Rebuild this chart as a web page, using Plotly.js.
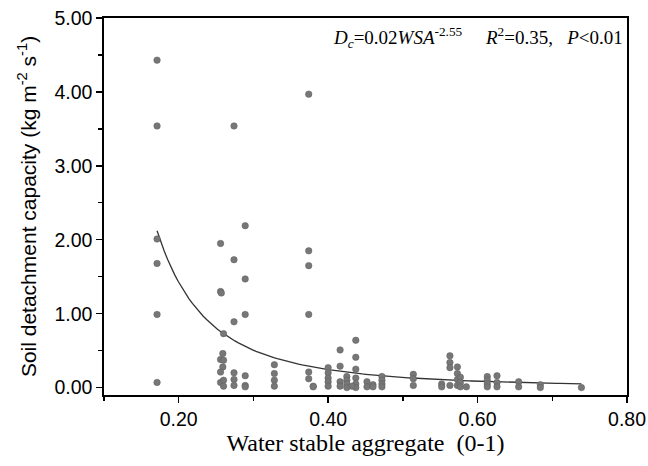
<!DOCTYPE html>
<html>
<head>
<meta charset="utf-8">
<script src="https://cdn.plot.ly/plotly-3.0.1.min.js"></script>
<style>html,body{margin:0;padding:0;background:#fff;}#chart{width:648px;height:466px;}</style>
</head>
<body>
<div id="chart"></div>
<script>
// Observed points: water stable aggregate (WSA) vs soil detachment capacity (Dc)
const wsa = [
  0.171,0.171,0.171,0.171,0.171,0.171,
  0.256,0.256,0.257,0.260,0.259,0.256,0.260,0.259,0.256,0.256,0.260,0.260,
  0.274,0.274,0.274,0.274,0.274,0.274,
  0.289,0.289,0.289,0.289,0.289,0.289,
  0.328,0.328,0.328,0.328,
  0.374,0.374,0.374,0.374,0.374,0.374,
  0.380,0.380,
  0.400,0.400,0.400,0.400,0.400,
  0.416,0.416,0.416,0.416,
  0.425,0.425,0.425,0.425,
  0.437,0.437,0.437,0.437,0.437,0.437,0.432,
  0.452,0.452,
  0.460,0.460,
  0.472,0.472,0.472,0.472,
  0.514,0.514,0.514,
  0.552,0.552,
  0.563,0.563,0.563,0.563,
  0.573,0.573,0.573,0.573,
  0.577,0.577,0.577,
  0.585,
  0.613,0.613,0.613,0.613,
  0.626,0.626,0.626,
  0.655,0.655,
  0.684,0.684,
  0.739
];
const dc = [
  4.43,3.54,2.01,1.68,0.99,0.07,
  1.95,1.30,1.28,0.73,0.46,0.38,0.37,0.28,0.21,0.07,0.10,0.02,
  3.54,1.73,0.89,0.20,0.11,0.03,
  2.19,1.47,0.99,0.16,0.03,0.01,
  0.31,0.19,0.10,0.02,
  3.97,1.85,1.65,0.99,0.21,0.12,
  0.02,0.01,
  0.27,0.20,0.13,0.08,0.02,
  0.51,0.29,0.08,0.02,
  0.15,0.10,0.05,0.00,
  0.64,0.41,0.25,0.13,0.05,0.00,0.02,
  0.08,0.01,
  0.04,0.01,
  0.15,0.10,0.05,0.01,
  0.18,0.12,0.03,
  0.05,0.01,
  0.43,0.34,0.27,0.03,
  0.28,0.19,0.11,0.03,
  0.14,0.07,0.01,
  0.01,
  0.15,0.10,0.05,0.01,
  0.16,0.07,0.01,
  0.08,0.01,
  0.04,0.00,
  0.00
];
// Power-law fit Dc = a * WSA^b (coefficient as drawn by the curve)
const fitA = 0.0235;
const fitB = -2.55;
const fitRange = [0.171, 0.739];
const xTicks = [0.2, 0.4, 0.6, 0.8];
const xTickText = ["0.20", "0.40", "0.60", "0.80"];
const yTicks = [0, 1, 2, 3, 4, 5];
const yTickText = ["0.00", "1.00", "2.00", "3.00", "4.00", "5.00"];

const fitX = [], fitY = [];
for (let i = 0; i <= 120; i++) {
  const x = fitRange[0] + (fitRange[1] - fitRange[0]) * i / 120;
  fitX.push(x);
  fitY.push(fitA * Math.pow(x, fitB));
}

const traces = [
  {
    x: fitX, y: fitY, type: 'scatter', mode: 'lines',
    line: {color: '#333333', width: 1.3}, hoverinfo: 'skip'
  },
  {
    x: wsa, y: dc, type: 'scatter', mode: 'markers',
    marker: {size: 6.5, color: '#777777', line: {color: '#5e5e5e', width: 0.5}}
  }
];

const sans = 'Liberation Sans, Arial, sans-serif';
const serif = 'Liberation Serif, Times New Roman, serif';

const layout = {
  width: 648, height: 466,
  margin: {l: 104, r: 21, t: 18, b: 71},
  paper_bgcolor: '#fff', plot_bgcolor: '#fff',
  showlegend: false,
  xaxis: {
    range: [0.10, 0.80],
    tickvals: xTicks, ticktext: xTickText,
    ticks: 'outside', ticklen: 6, tickwidth: 1.4, tickcolor: '#000',
    minor: {dtick: 0.1, tick0: 0.1, ticks: 'outside', ticklen: 4, tickwidth: 1.3, tickcolor: '#000', showgrid: false},
    showline: true, linecolor: '#000', linewidth: 1.7, mirror: true,
    showgrid: false, zeroline: false,
    tickfont: {family: sans, size: 19.5, color: '#000'},
    title: {text: 'Water stable aggregate&nbsp;&nbsp;(0-1)', font: {family: serif, size: 24, color: '#000'}, standoff: 4}
  },
  yaxis: {
    range: [-0.1, 5.0],
    tickvals: yTicks, ticktext: yTickText,
    ticks: 'outside', ticklen: 6, tickwidth: 1.4, tickcolor: '#000',
    minor: {dtick: 0.5, tick0: 0, ticks: 'outside', ticklen: 4, tickwidth: 1.3, tickcolor: '#000', showgrid: false},
    showline: true, linecolor: '#000', linewidth: 1.7, mirror: true,
    showgrid: false, zeroline: false,
    tickfont: {family: sans, size: 19.5, color: '#000'},
    title: {text: 'Soil detachment capacity (kg m<sup>-2</sup> s<sup>-1</sup>)', font: {family: sans, size: 21, color: '#000'}, standoff: 12}
  },
  annotations: [{
    xref: 'paper', yref: 'paper', x: 0.997, y: 0.99, xanchor: 'right', yanchor: 'top',
    showarrow: false,
    text: '<i>D</i><sub><i>c</i></sub>=0.02<i>WSA</i><sup>-2.55</sup>&nbsp;&nbsp;&nbsp;&nbsp;&nbsp;<i>R</i><sup>2</sup>=0.35,&nbsp;&nbsp;&nbsp;<i>P</i>&lt;0.01',
    font: {family: serif, size: 19, color: '#000'}
  }]
};

Plotly.newPlot('chart', traces, layout, {displayModeBar: false, staticPlot: true});
</script>
</body>
</html>
